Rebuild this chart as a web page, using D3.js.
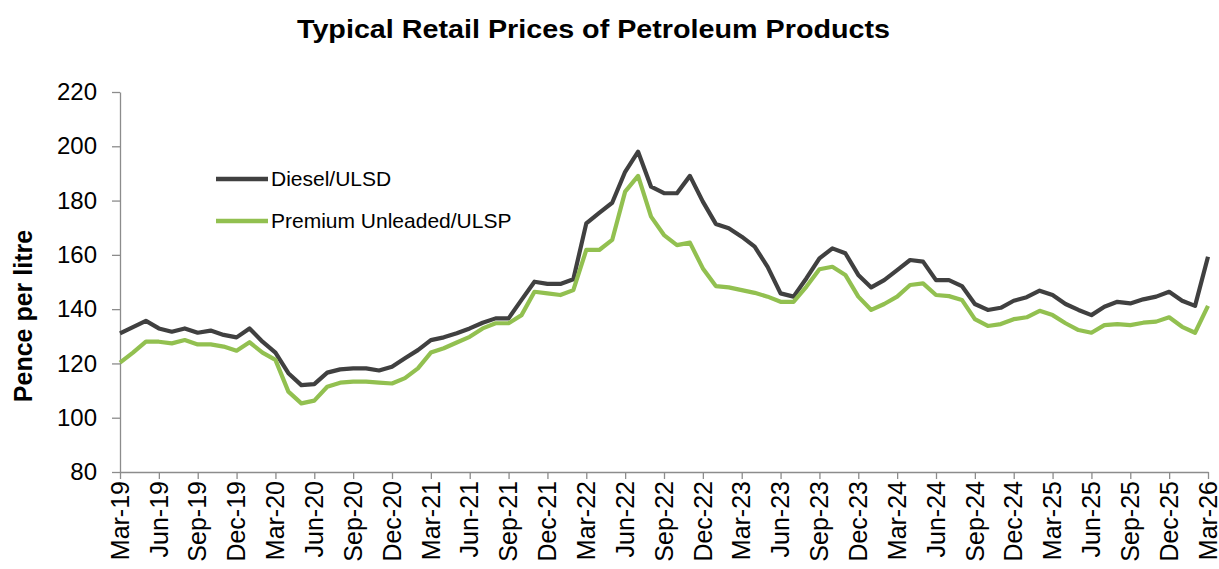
<!DOCTYPE html>
<html>
<head>
<meta charset="utf-8">
<script src="https://cdn.jsdelivr.net/npm/d3@7"></script>
<style>
  html, body { margin: 0; padding: 0; background: #ffffff; }
  svg { display: block; font-family: "Liberation Sans", Arial, sans-serif; }
</style>
</head>
<body>
<svg id="chart" width="1219" height="569"></svg>
<script>
// ---- data ----
const chartTitle = "Typical Retail Prices of Petroleum Products";
const yAxisTitle = "Pence per litre";
const seriesNames = ["Diesel/ULSD", "Premium Unleaded/ULSP"];
const firstMonth = new Date(2019, 2, 1);   // Mar-19
const lastMonth = new Date(2026, 2, 1);    // Mar-26
const tickLabels = ["Mar-19","Jun-19","Sep-19","Dec-19","Mar-20","Jun-20","Sep-20","Dec-20",
  "Mar-21","Jun-21","Sep-21","Dec-21","Mar-22","Jun-22","Sep-22","Dec-22","Mar-23","Jun-23",
  "Sep-23","Dec-23","Mar-24","Jun-24","Sep-24","Dec-24","Mar-25","Jun-25","Sep-25","Dec-25","Mar-26"];
const yTicks = [80, 100, 120, 140, 160, 180, 200, 220];

const diesel = [131.1,133.4,135.7,132.9,131.7,132.9,131.3,132.1,130.5,129.6,
  132.9,128.0,124.0,116.4,112.0,112.4,116.6,117.8,118.2,118.2,
  117.4,118.8,121.9,124.9,128.6,129.6,131.1,132.9,135.0,136.6,
  136.6,143.4,150.1,149.3,149.3,151.0,171.6,175.5,179.2,190.6,
  198.0,185.1,182.7,182.7,189.1,179.6,171.4,169.8,166.7,163.0,
  155.6,145.8,144.6,151.4,158.7,162.4,160.6,152.6,148.0,150.7,
  154.4,158.1,157.5,150.7,150.7,148.5,141.9,139.7,140.5,143.1,
  144.4,146.8,145.2,141.9,139.7,137.8,140.9,142.7,142.1,143.6,
  144.6,146.4,143.1,141.2,159.3];
const premium = [120.3,124.0,128.0,128.0,127.4,128.6,127.0,127.0,126.2,124.7,
  127.8,124.0,121.3,109.6,105.3,106.3,111.4,112.9,113.3,113.3,
  112.9,112.6,114.6,118.2,124.0,125.6,127.7,129.8,132.9,134.8,
  134.8,137.8,146.4,145.8,145.2,147.0,161.8,161.8,165.5,183.3,
  189.1,174.1,167.3,163.6,164.5,155.0,148.5,148.0,147.0,146.0,
  144.6,142.7,142.7,148.3,154.7,155.6,152.6,144.6,139.7,141.9,
  144.6,148.9,149.5,145.2,144.8,143.4,136.3,133.8,134.5,136.3,
  137.0,139.4,137.8,134.8,132.3,131.3,134.1,134.5,134.1,135.0,
  135.4,137.0,133.5,131.3,141.2];

// ---- layout ----
const fmt = d3.timeFormat("%b-%y");
const months = d3.timeMonth.range(firstMonth, d3.timeMonth.offset(lastMonth, 1)).map(fmt);
const colors = ["#404040", "#92C050"];
const svg = d3.select("#chart");

const x = d3.scalePoint().domain(months).range([120, 1208]);
const y = d3.scaleLinear().domain([80, 220]).range([472, 92]);

// title
svg.append("text")
  .attr("x", 297).attr("y", 38)
  .attr("font-size", 26).attr("font-weight", "bold").attr("fill", "#000")
  .attr("textLength", 593).attr("lengthAdjust", "spacingAndGlyphs")
  .text(chartTitle);

// y axis
const yAxis = svg.append("g").attr("transform", "translate(120,0)")
  .call(d3.axisLeft(y).tickValues(yTicks).tickSize(8).tickSizeOuter(0).tickPadding(15));
yAxis.select(".domain").attr("stroke", "#8c8c8c").attr("stroke-width", 1.3);
yAxis.selectAll(".tick line").attr("stroke", "#8c8c8c").attr("stroke-width", 1.3);
yAxis.selectAll(".tick text").attr("font-size", 24).attr("fill", "#000")
  .attr("font-family", "Liberation Sans, Arial, sans-serif");

// x axis
const xAxis = svg.append("g").attr("transform", "translate(0,472)")
  .call(d3.axisBottom(x).tickValues(tickLabels).tickSize(7).tickSizeOuter(0));
xAxis.select(".domain").attr("stroke", "#8c8c8c").attr("stroke-width", 1.3);
xAxis.selectAll(".tick line").attr("stroke", "#8c8c8c").attr("stroke-width", 1.3);
xAxis.selectAll(".tick text")
  .attr("font-size", 25).attr("fill", "#000")
  .attr("font-family", "Liberation Sans, Arial, sans-serif")
  .attr("text-anchor", "end")
  .attr("transform", "rotate(-90)")
  .attr("x", -9).attr("y", 0).attr("dy", "0.33em");

// y axis title
svg.append("text")
  .attr("transform", "translate(32,316) rotate(-90)")
  .attr("text-anchor", "middle")
  .attr("font-size", 25).attr("font-weight", "bold").attr("fill", "#000")
  .text(yAxisTitle);

// lines
const line = d3.line().x((d, i) => x(months[i])).y(d => y(d));
[diesel, premium].forEach((s, k) => {
  svg.append("path").datum(s)
    .attr("fill", "none").attr("stroke", colors[k]).attr("stroke-width", 4.2)
    .attr("stroke-linejoin", "round")
    .attr("d", line);
});

// legend
const legendY = [179, 221];
seriesNames.forEach((n, k) => {
  svg.append("line").attr("x1", 216).attr("x2", 268)
    .attr("y1", legendY[k]).attr("y2", legendY[k])
    .attr("stroke", colors[k]).attr("stroke-width", 4.5);
  svg.append("text").attr("x", 271).attr("y", legendY[k]).attr("dy", "0.35em")
    .attr("font-size", 21).attr("fill", "#000").text(n);
});
</script>
</body>
</html>
